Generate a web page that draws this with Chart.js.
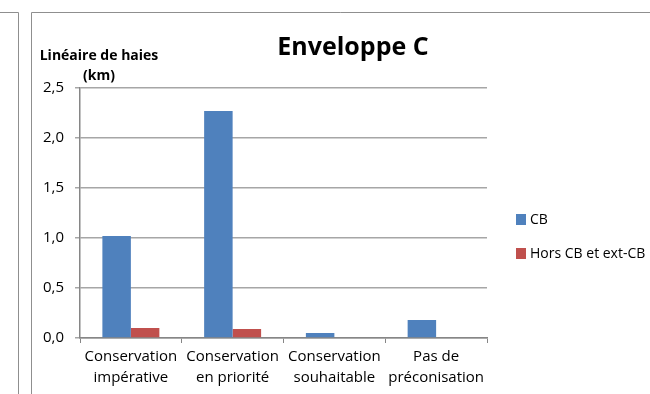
<!DOCTYPE html>
<html>
<head>
<meta charset="utf-8">
<script src="https://cdn.jsdelivr.net/npm/chart.js@4"></script>
<style>
  html, body { margin: 0; padding: 0; background: #fff; overflow: hidden; }
  #wrap { width: 650px; height: 394px; }
</style>
</head>
<body>
<div id="wrap"><canvas id="envChart" width="650" height="394"></canvas></div>
<script>
var categories = [
    ["Conservation", "impérative"],
    ["Conservation", "en priorité"],
    ["Conservation", "souhaitable"],
    ["Pas de", "préconisation"]
];
var cbValues = [1.02, 2.27, 0.05, 0.18];
var horsValues = [0.10, 0.09, 0, 0];
var seriesNames = ["CB", "Hors CB et ext-CB"];
var chartTitle = "Enveloppe C";
var yTitle = ["Linéaire de haies", "(km)"];

var FONT = "'Open Sans', Lato, sans-serif";
var axisGrey = "#868686";

// frames, title, axis title and legend (Excel-like layout)
var decor = {
    id: "decor",
    afterDraw: function (chart) {
        var ctx = chart.ctx;
        ctx.save();
        ctx.strokeStyle = "#8f8f8f";
        ctx.lineWidth = 1;
        ctx.beginPath();
        // neighbouring panel edge
        ctx.moveTo(0, 12.5); ctx.lineTo(18.5, 12.5); ctx.lineTo(18.5, 394);
        // chart frame
        ctx.moveTo(31.5, 394); ctx.lineTo(31.5, 12.5); ctx.lineTo(650, 12.5);
        ctx.stroke();

        ctx.fillStyle = "#000";
        ctx.textAlign = "center";
        ctx.textBaseline = "alphabetic";
        ctx.font = "bold 25px " + FONT;
        ctx.fillText(chartTitle, 353, 55);

        ctx.font = "bold 14px " + FONT;
        ctx.fillText(yTitle[0], 99, 60);
        ctx.fillText(yTitle[1], 99, 80);

        // legend
        ctx.textAlign = "left";
        ctx.textBaseline = "middle";
        ctx.font = "14px " + FONT;
        var ys = [219, 253];
        chart.data.datasets.forEach(function (ds, i) {
            ctx.fillStyle = ds.backgroundColor;
            ctx.fillRect(516, ys[i] - 5, 10, 11);
            ctx.fillStyle = "#000";
            ctx.fillText(ds.label, 530, ys[i] + 1);
        });
        ctx.restore();
    }
};

new Chart("envChart", {
    type: "bar",
    data: {
        labels: categories,
        datasets: [{
            label: seriesNames[0],
            data: cbValues,
            backgroundColor: "#4F81BD",
            categoryPercentage: 0.56,
            barPercentage: 1.0
        }, {
            label: seriesNames[1],
            data: horsValues,
            backgroundColor: "#C0504D",
            categoryPercentage: 0.56,
            barPercentage: 1.0
        }]
    },
    options: {
        responsive: false,
        animation: false,
        layout: {
            padding: { left: 0, top: 88, right: 163, bottom: 0 }
        },
        plugins: {
            legend: { display: false },
            title: { display: false },
            tooltip: { enabled: false }
        },
        scales: {
            x: {
                afterFit: function (s) { s.height = 56; },
                grid: {
                    offset: true,
                    drawOnChartArea: false,
                    color: axisGrey,
                    tickLength: 5
                },
                border: { color: axisGrey, width: 1.5 },
                ticks: {
                    color: "#000",
                    font: { family: FONT, size: 15, lineHeight: 1.4 },
                    padding: 3,
                    maxRotation: 0,
                    autoSkip: false
                }
            },
            y: {
                min: 0,
                max: 2.5,
                afterFit: function (s) { s.width = 80; },
                grid: {
                    color: "#a6a6a6",
                    lineWidth: 1.5,
                    tickLength: 5
                },
                border: { color: axisGrey, width: 1.5 },
                ticks: {
                    stepSize: 0.5,
                    color: "#000",
                    font: { family: FONT, size: 15 },
                    padding: 11,
                    callback: function (v) { return v.toFixed(1).replace(".", ","); }
                }
            }
        }
    },
    plugins: [decor]
});
</script>
</body>
</html>
